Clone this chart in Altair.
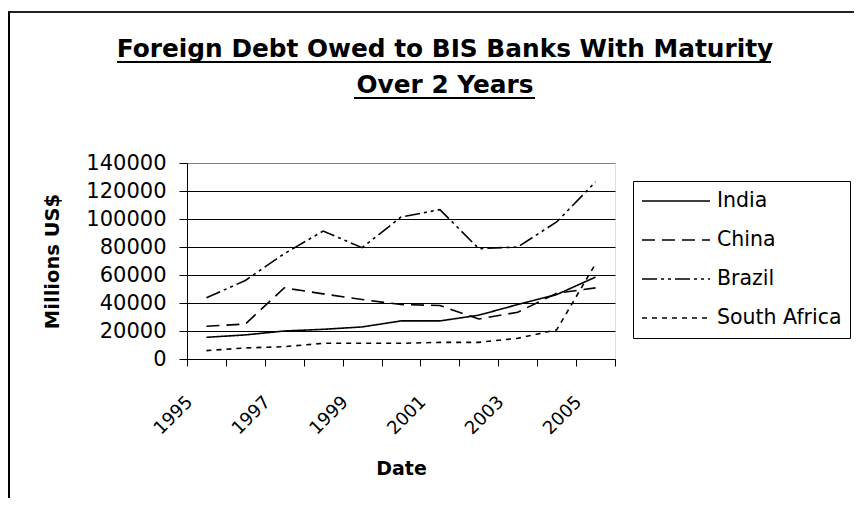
import altair as alt
import pandas as pd

years = [1995, 1996, 1997, 1998, 1999, 2000, 2001, 2002, 2003, 2004, 2005]
india = [15500, 17200, 20000, 21200, 22900, 27200, 27200, 31300, 38900, 46000, 58500]
china = [23400, 25000, 50800, 46500, 42500, 38900, 38200, 28600, 33400, 47000, 50800]
brazil = [43700, 56100, 75200, 91400, 79500, 101400, 106700, 78800, 80000, 97900, 126500]
south_africa = [6000, 7900, 8800, 11200, 11200, 11200, 11900, 11900, 14800, 20800, 68000]

countries = ["India", "China", "Brazil", "South Africa"]
dashes = [[1, 0], [13, 7], [15, 4, 3, 4, 3, 4], [5, 5]]
widths = [1.6, 1.6, 3.0, 2.0]
y_ticks = [0, 20000, 40000, 60000, 80000, 100000, 120000, 140000]

rows = []
for c, vals in zip(countries, [india, china, brazil, south_africa]):
    for yr, v in zip(years, vals):
        rows.append({"year": yr, "country": c, "value": v})
df = pd.DataFrame(rows)

W, H = 428, 196
PL, PT, PR, PB = 179, 155, 239, 139
FONT = "DejaVu Sans"

legend = alt.Legend(
    orient="none", legendX=446, legendY=18, title=None,
    symbolType="stroke", symbolSize=68 * 68, symbolStrokeColor="black",
    labelFont=FONT, labelFontSize=20.5, labelColor="black", labelOffset=6,
    padding=8, strokeColor="black", fillColor="white", rowPadding=15, clipHeight=24,
)

lines = alt.Chart(df).mark_line(color="black", strokeCap="butt").encode(
    x=alt.X(
        "year:O", title="Date",
        scale=alt.Scale(type="band", paddingInner=0, paddingOuter=0),
        axis=alt.Axis(
            tickBand="extent", labelAngle=-45, labelAlign="right", labelBaseline="middle",
            labelExpr="datum.value % 2 == 1 ? datum.label : ''", labelOverlap=False,
            labelOffset=-17, labelPadding=33, tickSize=7, tickColor="black", domainColor="black",
            labelFont=FONT, labelFontSize=18, labelColor="black",
            titleFont=FONT, titleFontSize=19, titleFontWeight="bold", titleColor="black",
            titlePadding=22, grid=False,
        ),
    ),
    y=alt.Y(
        "value:Q", title="Millions US$",
        scale=alt.Scale(domain=[0, 140000], nice=False),
        axis=alt.Axis(
            values=y_ticks, format="d", tickSize=8, labelPadding=13,
            tickColor="black", domainColor="black",
            gridColor={"condition": {"test": "datum.value === 140000", "value": "#808080"}, "value": "black"},
            gridWidth=1,
            labelFont=FONT, labelFontSize=21, labelColor="black",
            titleFont=FONT, titleFontSize=19.5, titleFontWeight="bold", titleColor="black",
            titlePadding=23,
        ),
    ),
    strokeDash=alt.StrokeDash("country:N", scale=alt.Scale(domain=countries, range=dashes), legend=legend),
    strokeWidth=alt.StrokeWidth("country:N", scale=alt.Scale(domain=countries, range=widths), legend=legend),
)

one = pd.DataFrame({"k": [0]})
border_top = alt.Chart(one).mark_rule(color="#222222", strokeWidth=2).encode(
    x=alt.value(-PL), x2=alt.value(W + PR), y=alt.value(-151))
border_left = alt.Chart(one).mark_rule(color="black", strokeWidth=2).encode(
    x=alt.value(-178), y=alt.value(-151), y2=alt.value(H + PB))

title1 = alt.Chart(one).mark_text(
    text="Foreign Debt Owed to BIS Banks With Maturity", font=FONT, fontSize=24.8,
    fontWeight="bold", align="center", baseline="alphabetic", color="black",
).encode(x=alt.value(258), y=alt.value(-106))
title2 = alt.Chart(one).mark_text(
    text="Over 2 Years", font=FONT, fontSize=24.8,
    fontWeight="bold", align="center", baseline="alphabetic", color="black",
).encode(x=alt.value(258), y=alt.value(-70))
ul1 = alt.Chart(one).mark_rule(color="black", strokeWidth=2).encode(
    x=alt.value(-70), x2=alt.value(584), y=alt.value(-101))
ul2 = alt.Chart(one).mark_rule(color="black", strokeWidth=2).encode(
    x=alt.value(167), x2=alt.value(348), y=alt.value(-65))

chart = alt.layer(lines, border_top, border_left, title1, title2, ul1, ul2).properties(
    width=W, height=H,
    padding={"left": PL, "top": PT, "right": PR, "bottom": PB},
    autosize=alt.AutoSizeParams(type="none"),
).configure_view(stroke="#808080", strokeWidth=1).configure(background="white")

chart.save("out.html", embed_options={"renderer": "svg", "actions": False})
